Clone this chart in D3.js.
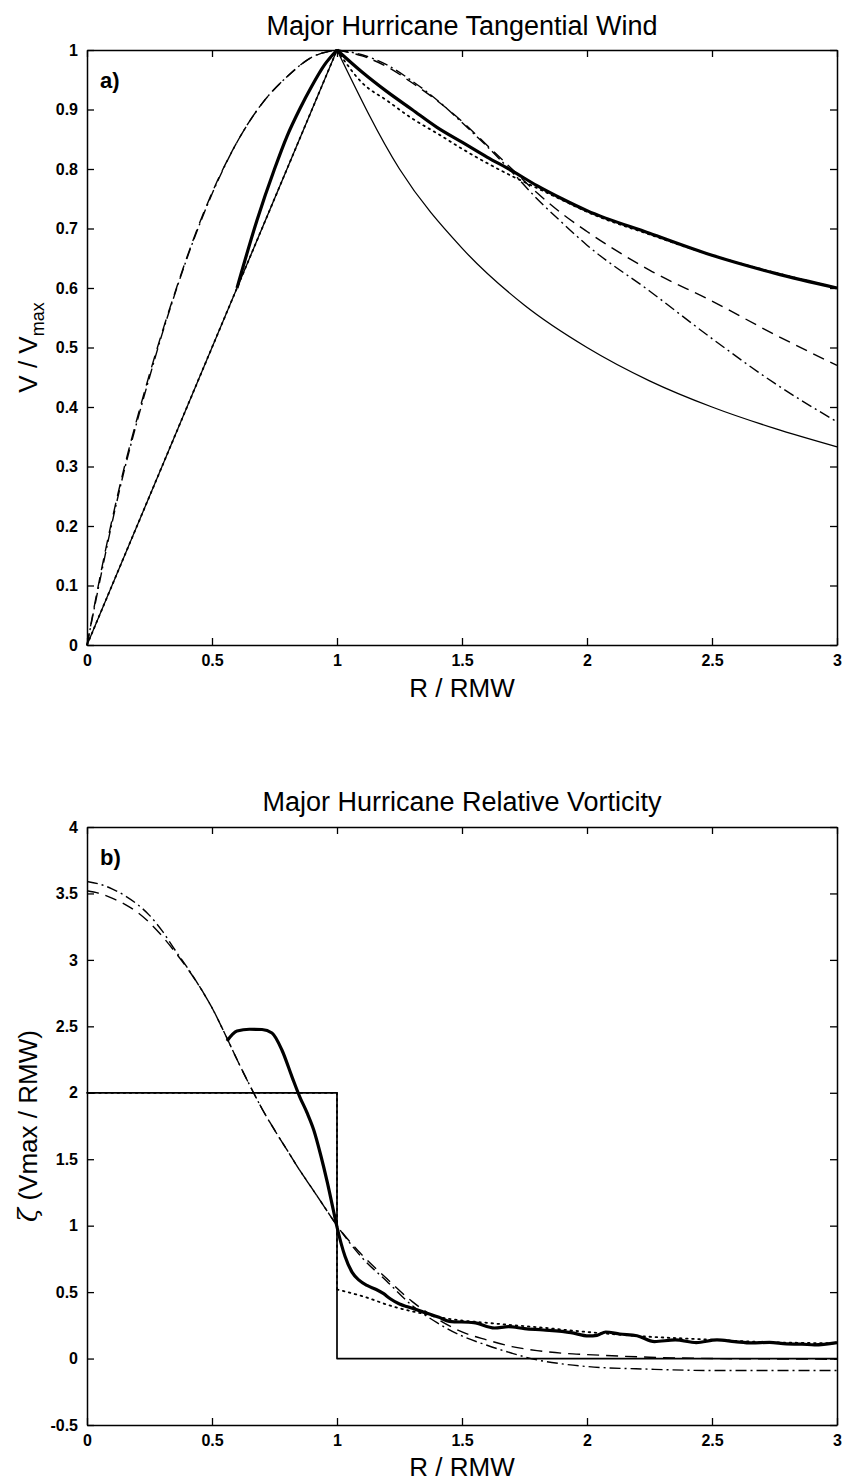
<!DOCTYPE html>
<html lang="en">
<head>
<meta charset="UTF-8">
<title>Major Hurricane profiles</title>
<script src="https://d3js.org/d3.v7.min.js"></script>
<style>
  body { margin: 0; background: #fff; }
  svg { display: block; font-family: "Liberation Sans", Arial, sans-serif; }
</style>
</head>
<body>
<svg id="chart" width="847" height="1481"></svg>
<script>
// ---- data ----
const rTicks = [0, 0.5, 1, 1.5, 2, 2.5, 3];
const rTickLabels = ["0", "0.5", "1", "1.5", "2", "2.5", "3"];
const vTicks = [0, 0.1, 0.2, 0.3, 0.4, 0.5, 0.6, 0.7, 0.8, 0.9, 1];
const vTickLabels = ["0", "0.1", "0.2", "0.3", "0.4", "0.5", "0.6", "0.7", "0.8", "0.9", "1"];
const zTicks = [-0.5, 0, 0.5, 1, 1.5, 2, 2.5, 3, 3.5, 4];
const zTickLabels = ["-0.5", "0", "0.5", "1", "1.5", "2", "2.5", "3", "3.5", "4"];

// (a) tangential wind, NaN splits a curve into pieces
const windRankineR = [0, 1, NaN, 1, 1.25, 1.5, 1.75, 2, 2.25, 2.5, 2.75, 3];
const windRankineV = [0, 1, NaN, 1, 0.8, 0.667, 0.571, 0.5, 0.444, 0.4, 0.364, 0.333];
const windObsR = [0.6, 0.68, 0.75, 0.8, 0.85, 0.9, 0.95, 1, NaN, 1, 1.1, 1.2, 1.3, 1.4, 1.5, 1.6, 1.7, 1.8, 1.9, 2, 2.25, 2.5, 2.75, 3];
const windObsV = [0.6, 0.714, 0.8, 0.855, 0.9, 0.94, 0.975, 1, NaN, 1, 0.963, 0.93, 0.9, 0.87, 0.845, 0.82, 0.797, 0.772, 0.75, 0.73, 0.692, 0.655, 0.625, 0.6];
const windDotR = [0, 1, NaN, 1, 1.1, 1.2, 1.3, 1.4, 1.5, 1.6, 1.7, 1.8, 1.9, 2, 2.25, 2.5, 2.75, 3];
const windDotV = [0, 1, NaN, 1, 0.945, 0.915, 0.885, 0.86, 0.834, 0.81, 0.788, 0.768, 0.748, 0.728, 0.69, 0.655, 0.626, 0.6];
const windDashR = [0, 0.05, 0.1, 0.15, 0.2, 0.25, 0.3, 0.35, 0.4, 0.5, 0.6, 0.7, 0.8, 0.9, 1, NaN, 1, 1.1, 1.2, 1.3, 1.4, 1.5, 1.6, 1.7, 1.8, 1.9, 2, 2.25, 2.5, 2.75, 3];
const windDashV = [0, 0.11, 0.21, 0.3, 0.38, 0.455, 0.525, 0.59, 0.652, 0.76, 0.845, 0.91, 0.955, 0.988, 1, NaN, 1, 0.99, 0.972, 0.945, 0.915, 0.88, 0.84, 0.8, 0.76, 0.725, 0.695, 0.63, 0.578, 0.522, 0.47];
const windDashDotR = [0, 0.05, 0.1, 0.15, 0.2, 0.25, 0.3, 0.35, 0.4, 0.5, 0.6, 0.7, 0.8, 0.9, 1, NaN, 1, 1.1, 1.2, 1.3, 1.4, 1.5, 1.6, 1.7, 1.8, 1.9, 2, 2.25, 2.5, 2.75, 3];
const windDashDotV = [0, 0.105, 0.205, 0.295, 0.375, 0.45, 0.522, 0.588, 0.65, 0.758, 0.845, 0.91, 0.955, 0.988, 1, NaN, 1, 0.992, 0.975, 0.948, 0.916, 0.878, 0.838, 0.795, 0.75, 0.71, 0.672, 0.595, 0.515, 0.44, 0.375];

// (b) relative vorticity
const vortRankineR = [0, 1, 1, 3];
const vortRankineZ = [2, 2, 0, 0];
const vortObsR = [0.56, 0.6, 0.65, 0.7, 0.74, 0.78, 0.82, 0.851, 0.88, 0.907, 0.935, 0.962, 0.985, 1.0, 1.032, 1.06, 1.088, 1.12, 1.157, 1.185, 1.213, 1.25, 1.282, 1.338, 1.408, 1.449, 1.547, 1.63, 1.686, 1.75, 1.825, 1.936, 2.006, 2.04, 2.075, 2.131, 2.2, 2.27, 2.353, 2.437, 2.52, 2.59, 2.659, 2.73, 2.798, 2.86, 2.91, 3.0];
const vortObsZ = [2.39, 2.465, 2.478, 2.476, 2.45, 2.32, 2.12, 1.97, 1.85, 1.72, 1.53, 1.32, 1.12, 0.99, 0.77, 0.65, 0.59, 0.55, 0.52, 0.49, 0.45, 0.41, 0.39, 0.355, 0.31, 0.28, 0.27, 0.23, 0.24, 0.225, 0.215, 0.195, 0.17, 0.175, 0.2, 0.185, 0.172, 0.128, 0.14, 0.12, 0.14, 0.128, 0.118, 0.122, 0.11, 0.108, 0.103, 0.12];
const vortDotR = [0, 1, NaN, 1, 1, NaN, 1, 1.1, 1.227, 1.35, 1.435, 1.616, 1.825, 2.0, 2.242, 2.465, 2.7, 3];
const vortDotZ = [2, 2, NaN, 2, 0.52, NaN, 0.52, 0.47, 0.39, 0.335, 0.303, 0.266, 0.232, 0.2, 0.165, 0.145, 0.125, 0.115];
const vortDashR = [0, 0.05, 0.1, 0.15, 0.2, 0.25, 0.3, 0.35, 0.4, 0.45, 0.5, 0.55, 0.6, 0.65, 0.7, 0.75, 0.8, 0.85, 0.9, 0.95, 1, 1.1, 1.2, 1.3, 1.4, 1.5, 1.6, 1.7, 1.8, 1.9, 2, 2.25, 2.5, 2.75, 3];
const vortDashZ = [3.52, 3.5, 3.465, 3.42, 3.36, 3.28, 3.18, 3.065, 2.94, 2.8, 2.64, 2.45, 2.25, 2.06, 1.88, 1.72, 1.57, 1.42, 1.28, 1.14, 1.0, 0.78, 0.6, 0.43, 0.3, 0.2, 0.14, 0.09, 0.06, 0.04, 0.03, 0.01, 0.0, -0.003, -0.005];
const vortDashDotR = [0, 0.05, 0.1, 0.15, 0.2, 0.25, 0.3, 0.35, 0.4, 0.45, 0.5, 0.55, 0.6, 0.65, 0.7, 0.75, 0.8, 0.85, 0.9, 0.95, 1, 1.1, 1.2, 1.3, 1.4, 1.5, 1.6, 1.7, 1.8, 1.9, 2, 2.25, 2.5, 2.75, 3];
const vortDashDotZ = [3.59, 3.57, 3.535, 3.485, 3.42, 3.335, 3.22, 3.08, 2.945, 2.8, 2.64, 2.45, 2.25, 2.06, 1.88, 1.72, 1.57, 1.42, 1.28, 1.14, 1.0, 0.76, 0.58, 0.4, 0.27, 0.17, 0.1, 0.04, -0.01, -0.04, -0.06, -0.08, -0.09, -0.09, -0.09];

// ---- layout ----
const svg = d3.select("#chart");
const left = 87, right = 837;

const x = d3.scaleLinear().domain([0, 3]).range([left, right]);
const yTop = d3.scaleLinear().domain([0, 1]).range([645, 50]);
const yBot = d3.scaleLinear().domain([-0.5, 4]).range([1425, 827]);

const dashes = {
  solid: null,
  dashed: "12,7",
  dashdot: "11,4,2,4",
  dotted: "1.6,4.5"
};

function zip(rs, vs) {
  return rs.map((r, i) => [r, vs[i]]);
}

function drawPanel(y, ticks, tickLabels, series) {
  const g = svg.append("g");
  const x0 = x.range()[0], x1 = x.range()[1];
  const y0 = y.range()[0], y1 = y.range()[1];

  // lines
  const line = d3.line()
    .defined(d => !isNaN(d[0]) && !isNaN(d[1]))
    .x(d => x(d[0]))
    .y(d => y(d[1]));

  series.forEach(s => {
    line.curve(s.curve || d3.curveMonotoneX);
    g.append("path")
      .attr("fill", "none")
      .attr("stroke", "#000")
      .attr("stroke-width", s.width)
      .attr("stroke-linecap", s.style === "dotted" ? "round" : "butt")
      .attr("stroke-linejoin", "round")
      .attr("stroke-dasharray", dashes[s.style])
      .attr("d", line(zip(s.r, s.v)));
  });

  // axes, MATLAB style box with inward ticks
  const axB = g.append("g").attr("transform", `translate(0,${y0})`)
    .call(d3.axisBottom(x).tickValues(rTicks).tickSizeInner(-7).tickSizeOuter(0)
      .tickPadding(6).tickFormat((d, i) => rTickLabels[i]));
  const axT = g.append("g").attr("transform", `translate(0,${y1})`)
    .call(d3.axisTop(x).tickValues(rTicks).tickSizeInner(-7).tickSizeOuter(0).tickFormat(""));
  const axL = g.append("g").attr("transform", `translate(${x0},0)`)
    .call(d3.axisLeft(y).tickValues(ticks).tickSizeInner(-7).tickSizeOuter(0)
      .tickPadding(9).tickFormat((d, i) => tickLabels[i]));
  const axR = g.append("g").attr("transform", `translate(${x1},0)`)
    .call(d3.axisRight(y).tickValues(ticks).tickSizeInner(-7).tickSizeOuter(0).tickFormat(""));

  [axB, axT, axL, axR].forEach(a => {
    a.selectAll("path.domain").attr("stroke", "#000").attr("stroke-width", 1.5);
    a.selectAll(".tick line").attr("stroke", "#000").attr("stroke-width", 1.3);
    a.selectAll("text")
      .attr("fill", "#000")
      .style("font-family", '"Liberation Sans", Arial, sans-serif')
      .style("font-size", "16px")
      .style("font-weight", "bold");
  });
  axB.selectAll("text").attr("dy", "0.95em");
  return g;
}

// ---- panel a ----
drawPanel(yTop, vTicks, vTickLabels, [
  { r: windRankineR, v: windRankineV, style: "solid", width: 1.3 },
  { r: windDotR, v: windDotV, style: "dotted", width: 1.8 },
  { r: windDashR, v: windDashV, style: "dashed", width: 1.4 },
  { r: windDashDotR, v: windDashDotV, style: "dashdot", width: 1.4 },
  { r: windObsR, v: windObsV, style: "solid", width: 3.2 }
]);

svg.append("text")
  .attr("x", (left + right) / 2).attr("y", 35)
  .attr("text-anchor", "middle")
  .style("font-size", "27px")
  .text("Major Hurricane Tangential Wind");

svg.append("text")
  .attr("x", 100).attr("y", 88)
  .style("font-size", "22px").style("font-weight", "bold")
  .text("a)");

svg.append("text")
  .attr("x", (left + right) / 2).attr("y", 697)
  .attr("text-anchor", "middle")
  .style("font-size", "26px")
  .text("R / RMW");

const vLab = svg.append("text")
  .attr("transform", `translate(37,${(50 + 645) / 2}) rotate(-90)`)
  .attr("text-anchor", "middle")
  .style("font-size", "26px");
vLab.append("tspan").text("V / V");
vLab.append("tspan").attr("dy", 7).style("font-size", "18px").text("max");

// ---- panel b ----
drawPanel(yBot, zTicks, zTickLabels, [
  { r: vortRankineR, v: vortRankineZ, style: "solid", width: 1.7, curve: d3.curveLinear },
  { r: vortDotR, v: vortDotZ, style: "dotted", width: 1.8 },
  { r: vortDashR, v: vortDashZ, style: "dashed", width: 1.4 },
  { r: vortDashDotR, v: vortDashDotZ, style: "dashdot", width: 1.4 },
  { r: vortObsR, v: vortObsZ, style: "solid", width: 3.2 }
]);

svg.append("text")
  .attr("x", (left + right) / 2).attr("y", 811)
  .attr("text-anchor", "middle")
  .style("font-size", "27px")
  .text("Major Hurricane Relative Vorticity");

svg.append("text")
  .attr("x", 100).attr("y", 865)
  .style("font-size", "22px").style("font-weight", "bold")
  .text("b)");

svg.append("text")
  .attr("x", (left + right) / 2).attr("y", 1476)
  .attr("text-anchor", "middle")
  .style("font-size", "26px")
  .text("R / RMW");

const zLab = svg.append("text")
  .attr("transform", `translate(37,${(827 + 1425) / 2}) rotate(-90)`)
  .attr("text-anchor", "middle")
  .style("font-size", "26px");
zLab.append("tspan").style("font-style", "italic").style("font-family", '"DejaVu Serif", serif').text("ζ");
zLab.append("tspan").text(" (Vmax / RMW)");
</script>
</body>
</html>
